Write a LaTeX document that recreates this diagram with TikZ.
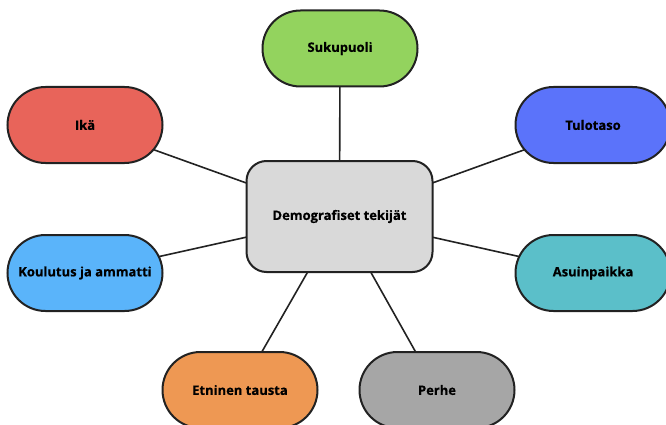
\documentclass[tikz,border=0pt]{standalone}
\usepackage{fontspec}
\setmainfont{Open Sans}
\newfontfamily\paksu{Open Sans Bold}[FakeBold=0.4]
\usetikzlibrary{backgrounds}

\definecolor{vihrea}{HTML}{93D35E}
\definecolor{punainen}{HTML}{E8645A}
\definecolor{sininen}{HTML}{5B73FA}
\definecolor{vaaleansin}{HTML}{5AB4FA}
\definecolor{turkoosi}{HTML}{5BBFC9}
\definecolor{oranssi}{HTML}{EE9853}
\definecolor{harmaa}{HTML}{A6A6A6}
\definecolor{keski}{HTML}{D9D9D9}
\definecolor{reuna}{HTML}{222222}

\begin{document}
\begin{tikzpicture}[x=1pt,y=-1pt,font=\fontsize{13}{15}\paksu,
  pill/.style={draw=reuna,line width=2pt,rounded corners=38pt,
    minimum width=155pt,minimum height=76pt},
  keskus/.style={draw=reuna,line width=2pt,rounded corners=20pt,
    fill=keski,minimum width=186pt,minimum height=111pt},
  yhteys/.style={draw=reuna,line width=1.6pt}]
  \clip (0,0) rectangle (666,425);
  \node[keskus] (demo) at (339.5,216.5) {Demografiset tekijät};
  \node[pill,fill=vihrea] (sukupuoli) at (340,48.5) {Sukupuoli};
  \node[pill,fill=punainen] (ika) at (85,125) {Ikä};
  \node[pill,fill=sininen] (tulotaso) at (593,125) {Tulotaso};
  \node[pill,fill=vaaleansin] (koulutus) at (85,273) {Koulutus ja ammatti};
  \node[pill,fill=turkoosi] (asuinpaikka) at (593,273) {Asuinpaikka};
  \node[pill,fill=oranssi] (etninen) at (240,390) {Etninen tausta};
  \node[pill,fill=harmaa] (perhe) at (437,390) {Perhe};
  \begin{scope}[on background layer]
    \foreach \n in {sukupuoli,ika,tulotaso,koulutus,asuinpaikka,etninen,perhe}
      \draw[yhteys] (demo.center) -- (\n.center);
  \end{scope}
\end{tikzpicture}
\end{document}
